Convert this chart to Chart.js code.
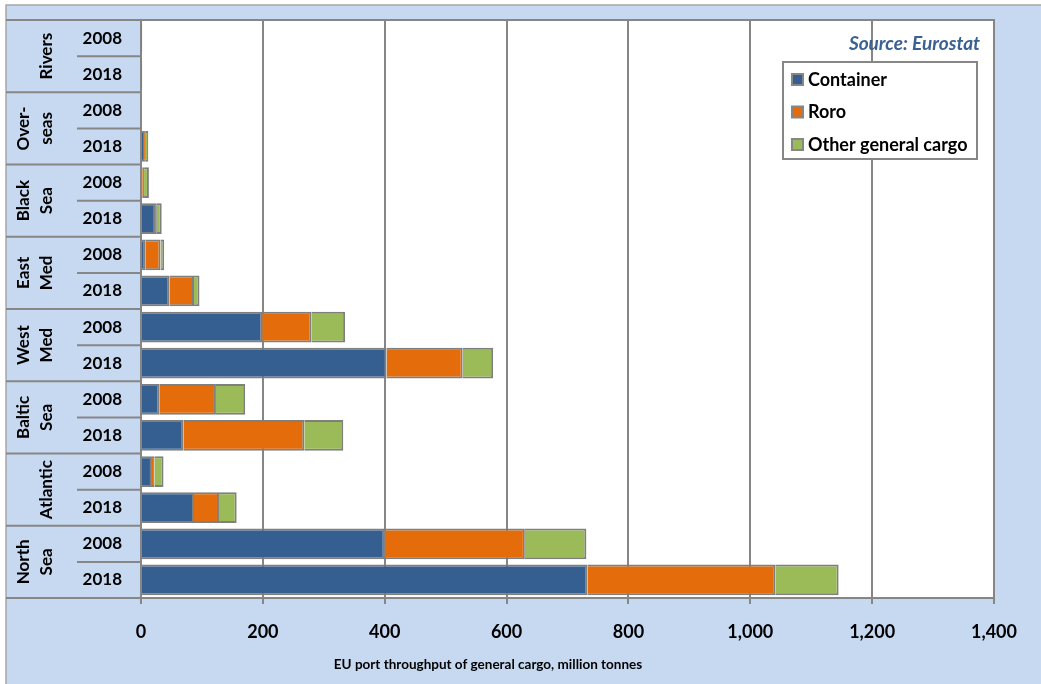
<!DOCTYPE html>
<html>
<head>
<meta charset="utf-8">
<title>EU port throughput of general cargo</title>
<script src="https://cdn.jsdelivr.net/npm/chart.js@4.4.0/dist/chart.umd.min.js"></script>
<style>
  html, body { margin: 0; padding: 0; background: #fff; }
  canvas { display: block; }
</style>
</head>
<body>
<canvas id="cargoChart" width="1041" height="684"></canvas>
<script>
// Sea regions (two lines of rotated text each) and the two years per region
var regions = [['', 'Rivers'], ['Over-', 'seas'], ['Black', 'Sea'], ['East', 'Med'],
               ['West', 'Med'], ['Baltic', 'Sea'], ['', 'Atlantic'], ['North', 'Sea']];
var years = ['2008', '2018'];

// million tonnes, one value per region/year row, top to bottom
var container = [1, 1, 0, 5, 2, 23, 7, 47, 199, 403, 30, 70, 18, 87, 400, 733];
var roro      = [0.5, 0.5, 0, 3, 3, 3, 25, 40, 81, 125, 93, 198, 4, 41, 230, 308];
var other     = [0.5, 0.5, 0, 4, 8, 8, 6, 9, 55, 50, 48, 64, 15, 29, 101, 104];

var xMax = 1400;
var xStep = 200;
var xTitle = 'EU port throughput of general cargo, million tonnes';
var sourceText = 'Source: Eurostat';

var FONT = 'Lato';
var GRAY = '#868686';

var rows = [];
regions.forEach(function (r) {
    years.forEach(function (y) { rows.push(r.join(' ').trim() + ' ' + y); });
});

// Background, label column, legend and texts around the plot
var frame = {
    id: 'frame',
    beforeDraw: function (chart) {
        var ctx = chart.ctx, a = chart.chartArea;
        ctx.save();
        ctx.fillStyle = '#ffffff';
        ctx.fillRect(0, 0, chart.width, chart.height);
        ctx.fillStyle = '#c6d9f1';
        ctx.fillRect(6, 5, chart.width - 6, chart.height - 5);
        ctx.strokeStyle = '#a6a6a6';
        ctx.lineWidth = 1.5;
        ctx.beginPath();
        ctx.moveTo(6, chart.height);
        ctx.lineTo(6, 5);
        ctx.lineTo(chart.width, 5);
        ctx.stroke();
        ctx.fillStyle = '#ffffff';
        ctx.fillRect(a.left, a.top, a.right - a.left, a.bottom - a.top);
        ctx.restore();
    },
    afterDraw: function (chart) {
        var ctx = chart.ctx, a = chart.chartArea, y = chart.scales.y;
        var n = rows.length;
        function edge(i) {
            if (i <= 0) return a.top;
            if (i >= n) return a.bottom;
            return (y.getPixelForValue(i - 1) + y.getPixelForValue(i)) / 2;
        }
        ctx.save();
        ctx.strokeStyle = GRAY;
        ctx.lineWidth = 2;
        // plot frame top and right, plus lines across the label column
        ctx.beginPath();
        ctx.moveTo(6, a.top); ctx.lineTo(a.right, a.top); ctx.lineTo(a.right, a.bottom);
        ctx.moveTo(6, a.bottom); ctx.lineTo(a.left, a.bottom);
        for (var i = 1; i < n; i++) {
            var ey = edge(i);
            ctx.moveTo(i % 2 === 0 ? 6 : 77, ey);
            ctx.lineTo(a.left, ey);
        }
        ctx.stroke();

        // rotated region names
        ctx.fillStyle = '#000';
        ctx.font = 'bold 17px ' + FONT;
        ctx.textAlign = 'center';
        ctx.textBaseline = 'middle';
        regions.forEach(function (r, k) {
            var cy = (edge(2 * k) + edge(2 * k + 2)) / 2;
            [24, 47].forEach(function (lx, j) {
                if (!r[j]) return;
                ctx.save();
                ctx.translate(lx, cy);
                ctx.rotate(-Math.PI / 2);
                ctx.fillText(r[j], 0, 0);
                ctx.restore();
            });
        });

        // source note
        ctx.fillStyle = '#3a6193';
        ctx.font = 'italic bold 19px ' + FONT;
        ctx.textAlign = 'right';
        ctx.fillText(sourceText, a.right - 14, a.top + 24);

        // legend box
        var bx = a.right - 211, by = a.top + 42, bw = 194, bh = 97;
        ctx.fillStyle = '#ffffff';
        ctx.fillRect(bx, by, bw, bh);
        ctx.strokeRect(bx, by, bw, bh);
        ctx.textAlign = 'left';
        ctx.font = 'bold 18px ' + FONT;
        chart.data.datasets.forEach(function (ds, k) {
            var cy = by + 17 + k * 32.5;
            ctx.fillStyle = ds.backgroundColor;
            ctx.fillRect(bx + 9, cy - 5, 11, 11);
            ctx.strokeRect(bx + 9, cy - 5, 11, 11);
            ctx.fillStyle = '#000';
            ctx.fillText(ds.label, bx + 25, cy + 1);
        });

        // x axis title
        ctx.textAlign = 'center';
        ctx.font = 'bold 13.5px ' + FONT;
        ctx.fillText(xTitle, 488, 665);
        ctx.restore();
    }
};

new Chart(document.getElementById('cargoChart').getContext('2d'), {
    type: 'bar',
    data: {
        labels: rows,
        datasets: [
            { label: 'Container', data: container, backgroundColor: '#365f91' },
            { label: 'Roro', data: roro, backgroundColor: '#e46c0a' },
            { label: 'Other general cargo', data: other, backgroundColor: '#9bbb59' }
        ]
    },
    options: {
        indexAxis: 'y',
        responsive: false,
        animation: false,
        layout: { padding: { left: 6, top: 20, right: 47, bottom: 0 } },
        datasets: {
            bar: { borderColor: '#7f7f7f', borderWidth: 2, barPercentage: 0.85, categoryPercentage: 1 }
        },
        plugins: { legend: { display: false }, tooltip: { enabled: false } },
        scales: {
            x: {
                stacked: true,
                min: 0,
                max: xMax,
                ticks: {
                    stepSize: xStep,
                    padding: 17,
                    color: '#000',
                    font: { family: FONT, size: 18, weight: 'bold' }
                },
                grid: { color: GRAY, lineWidth: 2, tickLength: 6 },
                border: { color: GRAY, width: 2 },
                afterFit: function (s) { s.height = 86; }
            },
            y: {
                stacked: true,
                grid: { display: false, drawTicks: false },
                border: { color: GRAY, width: 2 },
                ticks: {
                    padding: 19,
                    color: '#000',
                    font: { family: FONT, size: 17, weight: 'bold' },
                    callback: function (v, i) { return years[i % years.length]; }
                },
                afterFit: function (s) {
                    s.width = 135;
                    // the tick padding should not push the plot down
                    s.paddingTop = 0;
                    s.paddingBottom = 0;
                }
            }
        }
    },
    plugins: [frame]
});
</script>
</body>
</html>
